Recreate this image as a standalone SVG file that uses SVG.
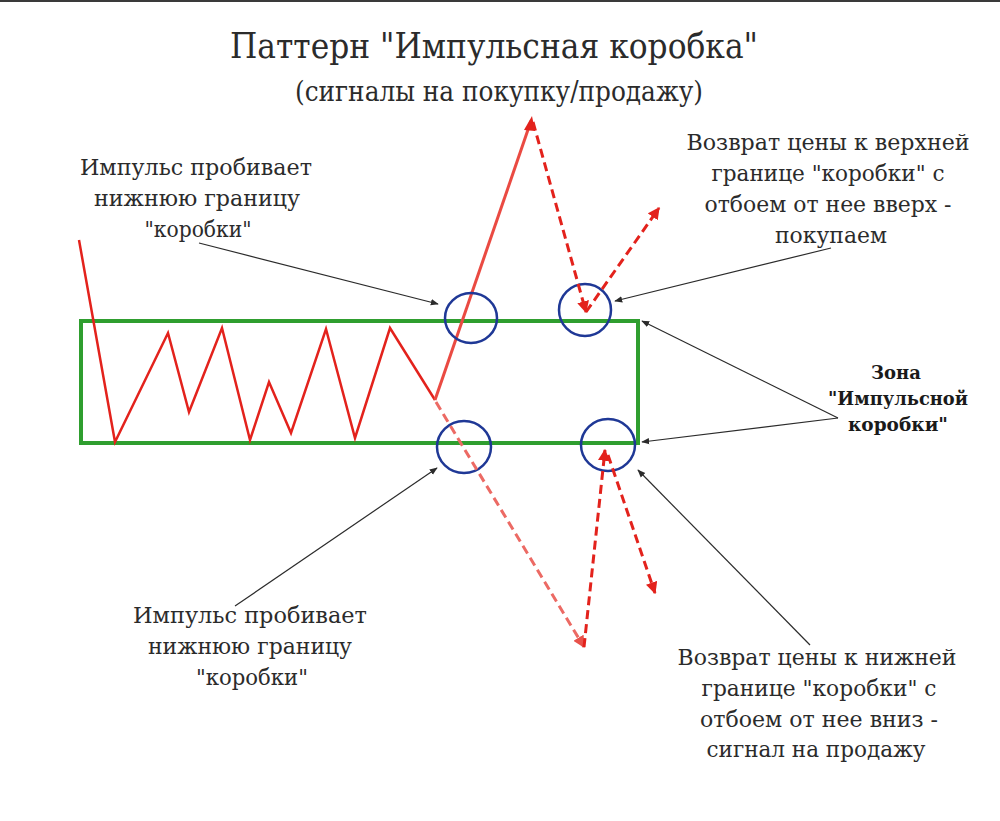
<svg xmlns="http://www.w3.org/2000/svg" width="1000" height="821" viewBox="0 0 1000 821">
<style>
.t{font-family:"DejaVu Serif","Liberation Serif",serif;fill:#2b2b2b;text-anchor:middle}
.lbl{font-size:22px}
.b{font-size:18px;font-weight:bold;fill:#1a1a1a}
.ttl{font-family:"DejaVu Serif Condensed","Liberation Serif",serif;fill:#2b2b2b;text-anchor:middle}
.circ{fill:none;stroke:#1f3896;stroke-width:2.5}
.ptr{stroke:#2b2b2b;stroke-width:1.2;fill:none;marker-end:url(#ap)}
.dash{stroke:#e3221c;stroke-width:3;fill:none;stroke-dasharray:9 5;marker-end:url(#ar)}
.dash.light{stroke:#ec6a64;marker-end:url(#arl)}
</style>
<defs>
<marker id="ap" viewBox="0 0 10 10" refX="9" refY="5" markerWidth="8" markerHeight="8" markerUnits="userSpaceOnUse" orient="auto"><path d="M0,1 L10,5 L0,9 z" fill="#2b2b2b"/></marker>
<marker id="ar" viewBox="0 0 10 10" refX="9" refY="5" markerWidth="12" markerHeight="12" markerUnits="userSpaceOnUse" orient="auto"><path d="M0,0 L10,5 L0,10 z" fill="#e3221c"/></marker>
<marker id="arl" viewBox="0 0 10 10" refX="9" refY="5" markerWidth="12" markerHeight="12" markerUnits="userSpaceOnUse" orient="auto"><path d="M0,0 L10,5 L0,10 z" fill="#e8524b"/></marker>
</defs>
<rect x="0" y="0" width="1000" height="821" fill="#ffffff"/>
<rect x="0" y="0" width="1000" height="2" fill="#3a3a3a"/>
<g id="title">
<text class="ttl" x="494" y="58" font-size="36" textLength="528" lengthAdjust="spacingAndGlyphs">Паттерн "Импульсная коробка"</text>
<text class="ttl" x="499" y="101" font-size="28" textLength="408" lengthAdjust="spacingAndGlyphs">(сигналы на покупку/продажу)</text>
</g>
<g id="box"><rect x="81" y="321" width="557" height="122" fill="none" stroke="#2f9e2f" stroke-width="4"/></g>
<g id="price">
<polyline points="79,240 115,442 168,333 189,412 222,328 250,440 269,382 291,433 326,329 355,438 390,328 435,400" fill="none" stroke="#e3221c" stroke-width="2.5" stroke-linejoin="miter"/>
<polyline points="435,400 531,121" fill="none" stroke="#ea4a42" stroke-width="3"/>
<path d="M524,130 L532,116 L535,131 z" fill="#e3221c"/>
</g>
<g id="circles">
<ellipse class="circ" cx="471" cy="318" rx="26" ry="25"/>
<ellipse class="circ" cx="585" cy="310" rx="26" ry="26"/>
<ellipse class="circ" cx="464" cy="447" rx="27" ry="26"/>
<ellipse class="circ" cx="608" cy="445" rx="27" ry="26"/>
</g>
<g id="connectors">
<line class="dash" x1="533" y1="122" x2="586" y2="312"/>
<line class="dash" x1="586" y1="312" x2="659" y2="208"/>
<line class="dash light" x1="436" y1="402" x2="584" y2="647"/>
<line class="dash" x1="584" y1="647" x2="605" y2="450"/>
<line class="dash" x1="608" y1="455" x2="655" y2="593"/>
<line class="ptr" x1="199" y1="243" x2="438" y2="304"/>
<line class="ptr" x1="831" y1="248" x2="615" y2="301"/>
<line class="ptr" x1="838" y1="418" x2="642" y2="321"/>
<line class="ptr" x1="838" y1="418" x2="642" y2="442"/>
<line class="ptr" x1="235" y1="606" x2="437" y2="468"/>
<line class="ptr" x1="810" y1="645" x2="638" y2="470"/>
</g>
<g id="label-top-left">
<text class="t lbl" x="196" y="175" textLength="232" lengthAdjust="spacingAndGlyphs">Импульс пробивает</text>
<text class="t lbl" x="197" y="206" textLength="206" lengthAdjust="spacingAndGlyphs">нижнюю границу</text>
<text class="t lbl" x="198" y="237" textLength="107" lengthAdjust="spacingAndGlyphs">"коробки"</text>
</g>
<g id="label-top-right">
<text class="t lbl" x="828" y="150" textLength="283" lengthAdjust="spacingAndGlyphs">Возврат цены к верхней</text>
<text class="t lbl" x="828" y="181" textLength="233" lengthAdjust="spacingAndGlyphs">границе "коробки" с</text>
<text class="t lbl" x="828" y="212" textLength="247" lengthAdjust="spacingAndGlyphs">отбоем от нее вверх -</text>
<text class="t lbl" x="831" y="243" textLength="112" lengthAdjust="spacingAndGlyphs">покупаем</text>
</g>
<g id="label-zone">
<text class="t b" x="896" y="379">Зона</text>
<text class="t b" x="898" y="405" textLength="140" lengthAdjust="spacingAndGlyphs">"Импульсной</text>
<text class="t b" x="898" y="431" textLength="100" lengthAdjust="spacingAndGlyphs">коробки"</text>
</g>
<g id="label-bottom-left">
<text class="t lbl" x="250" y="623" textLength="234" lengthAdjust="spacingAndGlyphs">Импульс пробивает</text>
<text class="t lbl" x="250" y="654" textLength="204" lengthAdjust="spacingAndGlyphs">нижнюю границу</text>
<text class="t lbl" x="252" y="685" textLength="112" lengthAdjust="spacingAndGlyphs">"коробки"</text>
</g>
<g id="label-bottom-right">
<text class="t lbl" x="817" y="665" textLength="279" lengthAdjust="spacingAndGlyphs">Возврат цены к нижней</text>
<text class="t lbl" x="819" y="696" textLength="235" lengthAdjust="spacingAndGlyphs">границе "коробки" с</text>
<text class="t lbl" x="819" y="727" textLength="238" lengthAdjust="spacingAndGlyphs">отбоем от нее вниз -</text>
<text class="t lbl" x="816" y="757" textLength="219" lengthAdjust="spacingAndGlyphs">сигнал на продажу</text>
</g>
</svg>
